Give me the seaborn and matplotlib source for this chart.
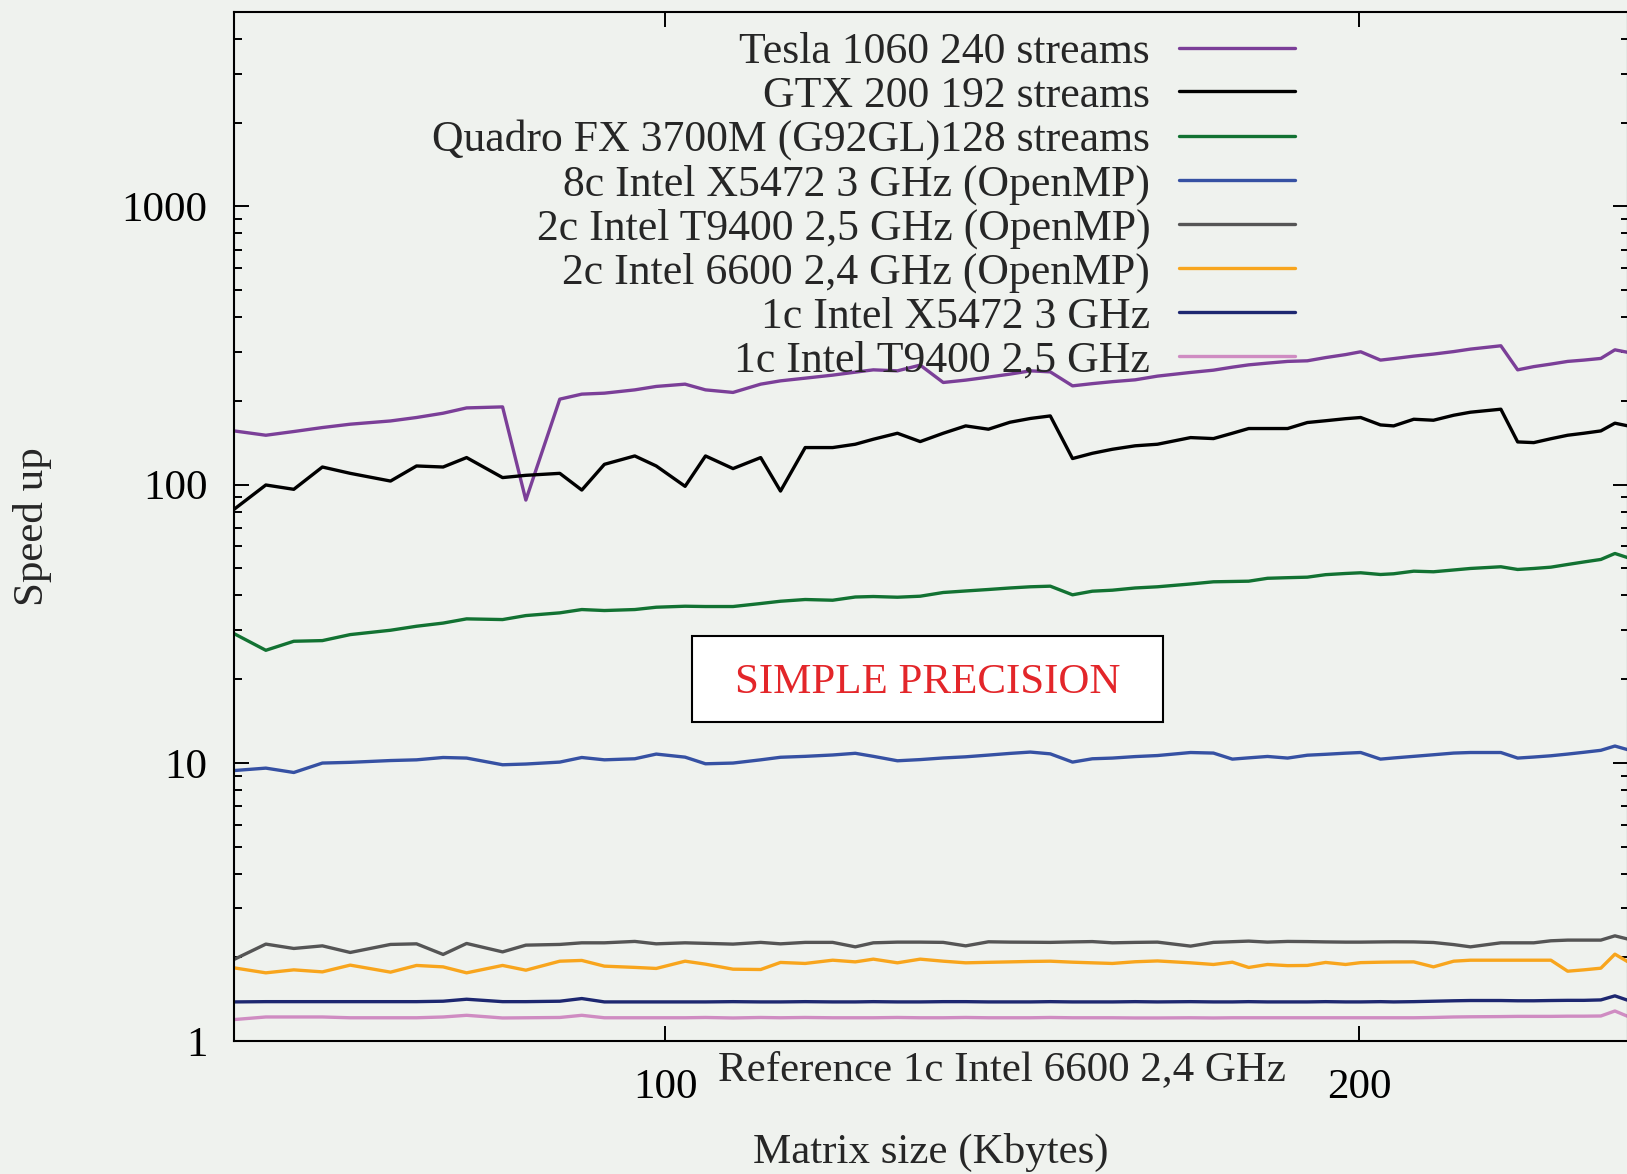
import numpy as np
import pandas as pd
import matplotlib
matplotlib.use("Agg")
import matplotlib.pyplot as plt
from matplotlib.patches import Rectangle
from matplotlib.ticker import LogLocator, NullLocator, NullFormatter
import seaborn as sns

# ---------------- data ----------------
matrix_kb = [65.0, 67.1, 69.0, 71.0, 73.0, 76.0, 78.0, 80.1, 82.0, 85.0,
             87.0, 90.0, 92.0, 94.1, 97.0, 99.1, 102.0, 104.1, 107.0, 110.0,
             112.2, 115.0, 118.2, 120.9, 123.1, 126.1, 129.0, 132.0, 135.0, 138.1,
             141.1, 144.0, 146.9, 150.2, 153.2, 156.3, 159.9, 163.5, 169.0, 172.9,
             176.2, 179.1, 182.5, 186.2, 189.9, 193.4, 197.3, 200.3, 204.3, 207.0,
             211.2, 215.4, 219.8, 223.5, 230.4, 234.3, 238.1, 242.2, 246.3, 250.3,
             254.6, 258.2, 261.6]

tesla = [156.0, 150.5, 155.2, 160.4, 164.9, 169.4, 174.3, 180.6, 188.7, 190.3,
         88.0, 202.9, 211.5, 213.2, 219.1, 225.4, 229.7, 219.1, 214.5, 229.7,
         236.1, 241.4, 247.5, 253.7, 258.6, 256.5, 268.9, 232.9, 237.5, 243.5,
         249.6, 256.5, 254.3, 226.5, 230.7, 234.5, 238.1, 245.5, 253.1, 257.9,
         264.4, 269.5, 273.4, 277.3, 278.7, 286.2, 293.4, 300.3, 280.3, 283.8,
         289.7, 294.6, 300.8, 307.0, 315.6, 258.6, 265.6, 271.2, 277.3, 280.3,
         284.2, 305.2, 298.8]

gtx = [81.5, 99.7, 96.2, 115.7, 109.8, 103.0, 116.7, 115.7, 125.1, 106.0,
       108.0, 109.8, 95.6, 118.3, 126.8, 116.7, 98.6, 126.8, 114.2, 125.1,
       94.8, 135.9, 135.9, 139.7, 145.6, 153.0, 142.8, 153.0, 162.6, 158.2,
       167.6, 172.9, 176.6, 124.1, 129.6, 134.0, 137.9, 139.7, 147.6, 146.4,
       153.0, 159.1, 159.1, 159.1, 167.2, 169.7, 172.6, 174.3, 163.9, 162.6,
       171.8, 170.4, 177.6, 182.1, 186.7, 142.4, 141.6, 146.2, 150.5, 153.0,
       156.0, 166.3, 162.6]

quadro = [29.14, 25.38, 27.35, 27.50, 28.90, 29.96, 30.97, 31.79, 32.92, 32.73,
          33.83, 34.60, 35.56, 35.27, 35.56, 36.25, 36.55, 36.46, 36.46, 37.38,
          38.09, 38.64, 38.41, 39.45, 39.61, 39.38, 39.71, 40.95, 41.47, 41.98,
          42.51, 42.93, 43.15, 40.17, 41.39, 41.74, 42.51, 42.93, 43.94, 44.74,
          44.86, 44.97, 46.06, 46.29, 46.49, 47.46, 47.93, 48.21, 47.53, 47.81,
          48.85, 48.61, 49.34, 49.96, 50.67, 49.55, 49.96, 50.50, 51.64, 52.72,
          53.83, 56.56, 54.60]

x5472_8c = [9.38, 9.57, 9.23, 9.98, 10.04, 10.19, 10.25, 10.45, 10.40, 9.84,
            9.90, 10.06, 10.45, 10.25, 10.34, 10.75, 10.48, 9.92, 9.98, 10.25,
            10.47, 10.55, 10.67, 10.82, 10.55, 10.17, 10.27, 10.41, 10.51, 10.66,
            10.81, 10.93, 10.77, 10.06, 10.34, 10.40, 10.53, 10.62, 10.89, 10.84,
            10.31, 10.42, 10.54, 10.40, 10.65, 10.73, 10.83, 10.89, 10.31, 10.41,
            10.55, 10.69, 10.84, 10.89, 10.89, 10.40, 10.49, 10.60, 10.75, 10.91,
            11.09, 11.49, 11.14]

t9400_2c = [1.964, 2.230, 2.151, 2.198, 2.081, 2.224, 2.235, 2.047, 2.242, 2.091,
            2.211, 2.224, 2.254, 2.254, 2.280, 2.235, 2.254, 2.244, 2.230, 2.262,
            2.235, 2.262, 2.262, 2.180, 2.254, 2.267, 2.267, 2.262, 2.198, 2.273,
            2.267, 2.265, 2.262, 2.271, 2.277, 2.254, 2.262, 2.267, 2.193, 2.262,
            2.275, 2.286, 2.267, 2.280, 2.277, 2.271, 2.267, 2.267, 2.271, 2.273,
            2.271, 2.260, 2.221, 2.180, 2.254, 2.254, 2.254, 2.292, 2.305, 2.305,
            2.305, 2.388, 2.324]

i6600_2c = [1.832, 1.758, 1.802, 1.772, 1.874, 1.768, 1.869, 1.847, 1.758, 1.869,
            1.797, 1.936, 1.948, 1.858, 1.839, 1.823, 1.936, 1.889, 1.812, 1.807,
            1.916, 1.900, 1.952, 1.925, 1.969, 1.910, 1.969, 1.936, 1.910, 1.918,
            1.925, 1.932, 1.936, 1.920, 1.910, 1.900, 1.927, 1.940, 1.910, 1.884,
            1.920, 1.838, 1.884, 1.866, 1.869, 1.916, 1.884, 1.913, 1.920, 1.923,
            1.925, 1.847, 1.936, 1.952, 1.952, 1.952, 1.952, 1.952, 1.782, 1.802,
            1.827, 2.052, 1.925]

x5472_1c = [1.382, 1.385, 1.385, 1.385, 1.385, 1.385, 1.385, 1.390, 1.413, 1.385,
            1.385, 1.390, 1.421, 1.382, 1.382, 1.382, 1.382, 1.382, 1.385, 1.382,
            1.382, 1.385, 1.382, 1.382, 1.385, 1.382, 1.382, 1.385, 1.385, 1.382,
            1.382, 1.382, 1.385, 1.382, 1.382, 1.382, 1.385, 1.382, 1.385, 1.382,
            1.382, 1.385, 1.382, 1.382, 1.382, 1.385, 1.382, 1.382, 1.385, 1.382,
            1.385, 1.390, 1.395, 1.398, 1.398, 1.395, 1.395, 1.398, 1.400, 1.400,
            1.405, 1.453, 1.400]

t9400_1c = [1.194, 1.220, 1.220, 1.220, 1.212, 1.212, 1.212, 1.220, 1.237, 1.210,
            1.212, 1.215, 1.237, 1.212, 1.212, 1.212, 1.212, 1.215, 1.210, 1.215,
            1.212, 1.215, 1.212, 1.212, 1.212, 1.215, 1.212, 1.212, 1.215, 1.212,
            1.212, 1.212, 1.215, 1.212, 1.212, 1.212, 1.210, 1.210, 1.212, 1.210,
            1.212, 1.212, 1.212, 1.212, 1.212, 1.212, 1.212, 1.212, 1.212, 1.212,
            1.212, 1.215, 1.220, 1.222, 1.224, 1.226, 1.226, 1.226, 1.228, 1.228,
            1.230, 1.282, 1.225]

series_labels = ["Tesla 1060 240 streams",
                 "GTX 200 192 streams",
                 "Quadro FX 3700M (G92GL)128 streams",
                 "8c Intel X5472 3 GHz (OpenMP)",
                 "2c Intel T9400 2,5 GHz (OpenMP)",
                 "2c Intel 6600 2,4 GHz (OpenMP)",
                 "1c Intel X5472 3 GHz",
                 "1c Intel T9400 2,5 GHz"]
series_values = [tesla, gtx, quadro, x5472_8c, t9400_2c, i6600_2c, x5472_1c, t9400_1c]
series_colors = ["#7b3f98", "#000000", "#127232", "#3651a3",
                 "#555555", "#f8a51d", "#1d2770", "#cf8cc2"]

y_ticks = [1, 10, 100, 1000]
x_ticks = [100, 200]

# ---------------- figure ----------------
W, H = 1627, 1174
BG = "#eff2ee"
FS = 31
LFS = 31.5

sns.set_theme(style="ticks")
plt.rcParams["font.family"] = ["Liberation Serif", "DejaVu Serif"]

df = pd.concat([pd.DataFrame({"size": matrix_kb, "speedup": v, "series": lab})
                for lab, v in zip(series_labels, series_values)], ignore_index=True)
palette = dict(zip(series_labels, series_colors))

fig = plt.figure(figsize=(W / 100, H / 100), dpi=100, facecolor=BG)
ax_left, ax_right, ax_top, ax_bottom = 234, 1628, 12, 1041
ax = fig.add_axes([ax_left / W, 1 - ax_bottom / H,
                   (ax_right - ax_left) / W, (ax_bottom - ax_top) / H])
ax.set_facecolor(BG)

sns.lineplot(data=df, x="size", y="speedup", hue="series", hue_order=series_labels,
             palette=palette, estimator=None, sort=False, linewidth=2.4, ax=ax)

ax.set_xscale("log")
ax.set_yscale("log")
ax.set_xlim(65.0, 261.6)
ax.set_ylim(1, 5000)

ax.set_xticks(x_ticks, labels=[str(t) for t in x_ticks])
ax.xaxis.set_minor_locator(NullLocator())
ax.set_yticks(y_ticks, labels=[str(t) for t in y_ticks])
ax.yaxis.set_minor_locator(LogLocator(base=10, subs=range(2, 10)))
ax.yaxis.set_minor_formatter(NullFormatter())

ax.tick_params(which="both", direction="in", top=True, right=True,
               width=1.4, color="black", labelcolor="black")
ax.tick_params(which="major", length=10.8, labelsize=FS)
ax.tick_params(which="minor", length=5.4)
ax.tick_params(axis="y", which="major", pad=19)
ax.tick_params(axis="x", which="major", pad=20)
for s in ax.spines.values():
    s.set_linewidth(1.5)
    s.set_color("black")

ax.set_xlabel("Matrix size (Kbytes)", fontsize=FS)
ax.xaxis.set_label_coords((931 - ax_left) / (ax_right - ax_left),
                          (ax_bottom - 1152) / (ax_bottom - ax_top))
ax.xaxis.label.set_va("center")
ax.set_ylabel("Speed up", fontsize=FS)
ax.yaxis.set_label_coords((33 - ax_left) / (ax_right - ax_left),
                          (ax_bottom - 527) / (ax_bottom - ax_top))
ax.yaxis.label.set_va("center")

# legend: text right-aligned, sample line on the right (gnuplot style)
handles, labels = ax.get_legend_handles_labels()
if ax.get_legend() is not None:
    ax.get_legend().remove()
leg = ax.legend(handles, labels, loc="upper right",
                bbox_to_anchor=(1295 / W, 1 - 32 / H), bbox_transform=fig.transFigure,
                frameon=False, markerfirst=False, fontsize=LFS,
                handlelength=2.65, handletextpad=0.66, labelspacing=0.085,
                borderpad=0, borderaxespad=0)
for ln in leg.get_lines():
    ln.set_linewidth(2.4)

# "SIMPLE PRECISION" box
bx0, bx1, by0, by1 = 692, 1163, 636, 722
ax.add_patch(Rectangle(((bx0 - ax_left) / (ax_right - ax_left), (ax_bottom - by1) / (ax_bottom - ax_top)),
                       (bx1 - bx0) / (ax_right - ax_left), (by1 - by0) / (ax_bottom - ax_top),
                       transform=ax.transAxes, facecolor="white", edgecolor="black",
                       linewidth=1.5, zorder=6))
ax.text(((bx0 + bx1) / 2 - ax_left) / (ax_right - ax_left),
        (ax_bottom - 683) / (ax_bottom - ax_top), "SIMPLE PRECISION",
        transform=ax.transAxes, ha="center", va="center", fontsize=FS,
        color="#e3262a", zorder=7)

fig.text(1002 / W, 1 - 1070 / H, "Reference 1c Intel 6600 2,4 GHz",
         ha="center", va="center", fontsize=FS)

fig.savefig("out.png", dpi=100, facecolor=BG)
